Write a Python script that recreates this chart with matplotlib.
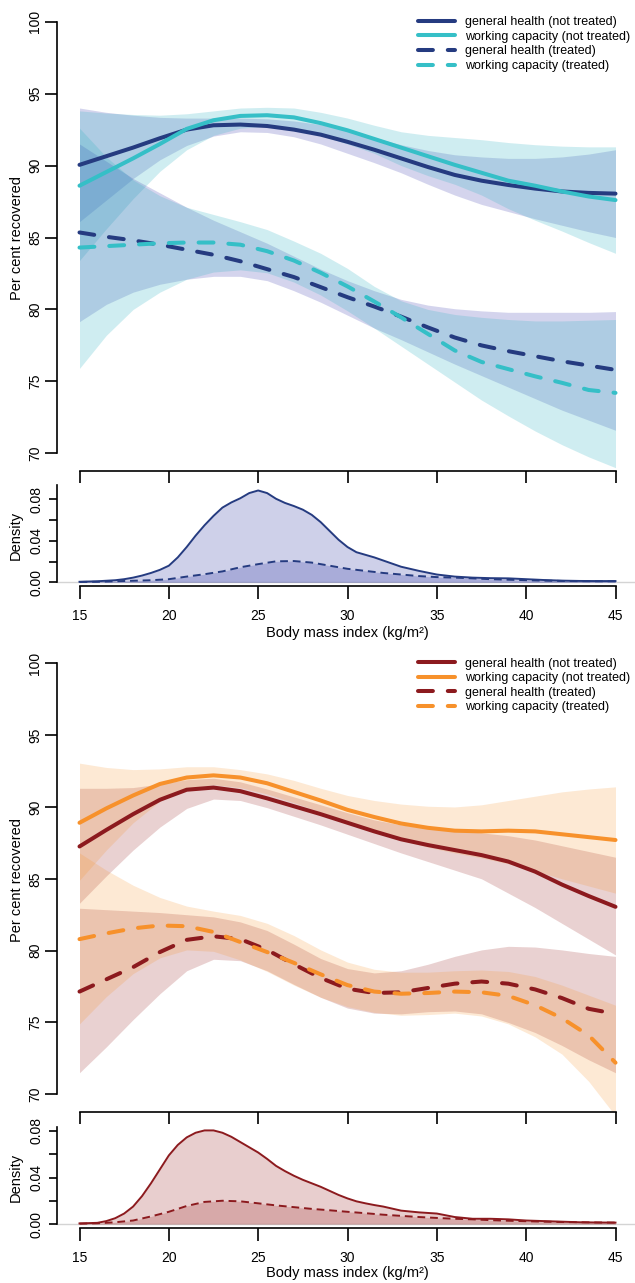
import numpy as np
import matplotlib
matplotlib.use("Agg")
import matplotlib.pyplot as plt

plt.rcParams['font.family'] = ['Liberation Sans', 'DejaVu Sans']

W, H = 635, 1283

# ---------------- data ----------------
bmi = [15, 16.5, 18, 19.5, 21, 22.5, 24, 25.5, 27, 28.5, 30,
       31.5, 33, 34.5, 36, 37.5, 39, 40.5, 42, 43.5, 45]

# top panel (blue)
t_gh = [90.05, 90.65, 91.25, 91.9, 92.5, 92.8, 92.85, 92.75, 92.5, 92.15, 91.65,
        91.1, 90.5, 89.9, 89.35, 88.95, 88.65, 88.4, 88.2, 88.1, 88.05]
t_gh_lo = [86.1, 87.6, 89.1, 90.4, 91.4, 92.05, 92.35, 92.3, 92.0, 91.5, 90.85,
           90.2, 89.5, 88.7, 87.95, 87.3, 86.8, 86.3, 85.85, 85.4, 85.0]
t_gh_hi = [94.0, 93.7, 93.5, 93.35, 93.3, 93.3, 93.3, 93.25, 93.1, 92.85, 92.45,
           91.95, 91.45, 91.05, 90.75, 90.6, 90.5, 90.5, 90.6, 90.8, 91.1]
t_wc = [88.6, 89.55, 90.5, 91.5, 92.55, 93.15, 93.45, 93.5, 93.35, 92.95, 92.45,
        91.85, 91.25, 90.65, 90.05, 89.5, 88.95, 88.6, 88.2, 87.85, 87.6]
t_wc_lo = [83.4, 85.6, 87.7, 89.6, 91.1, 92.1, 92.6, 92.75, 92.6, 92.1, 91.5,
           90.85, 90.0, 89.3, 88.7, 87.95, 87.0, 86.2, 85.45, 84.65, 83.9]
t_wc_hi = [93.8, 93.65, 93.55, 93.5, 93.6, 93.8, 94.0, 94.05, 94.0, 93.7, 93.3,
           92.8, 92.35, 92.1, 91.95, 91.8, 91.6, 91.45, 91.35, 91.3, 91.3]
t_ght = [85.35, 85.05, 84.8, 84.5, 84.15, 83.8, 83.35, 82.8, 82.25, 81.55, 80.85,
         80.2, 79.5, 78.75, 78.05, 77.5, 77.1, 76.75, 76.4, 76.1, 75.8]
t_ght_lo = [79.15, 80.35, 81.2, 81.75, 82.1, 82.3, 82.3, 82.0, 81.3, 80.5, 79.6,
            78.7, 77.9, 77.05, 76.2, 75.4, 74.6, 73.8, 73.0, 72.3, 71.6]
t_ght_hi = [91.5, 90.3, 89.1, 88.1, 87.1, 86.2, 85.4, 84.6, 83.7, 82.8, 82.0,
            81.3, 80.7, 80.3, 80.05, 79.9, 79.8, 79.8, 79.8, 79.8, 79.85]
t_wct = [84.3, 84.4, 84.5, 84.6, 84.65, 84.65, 84.5, 84.05, 83.4, 82.55, 81.6,
         80.55, 79.45, 78.3, 77.15, 76.35, 75.85, 75.35, 74.9, 74.4, 74.2]
t_wct_lo = [75.9, 78.2, 80.0, 81.2, 82.1, 82.6, 82.75, 82.55, 81.9, 81.0, 79.9,
            78.7, 77.45, 76.2, 74.95, 73.7, 72.6, 71.55, 70.6, 69.75, 69.0]
t_wct_hi = [92.6, 90.6, 89.0, 87.9, 87.1, 86.6, 86.1, 85.55, 84.75, 83.9, 82.85,
            81.6, 80.6, 80.0, 79.65, 79.45, 79.3, 79.2, 79.2, 79.25, 79.3]

# bottom panel (red / orange)
b_gh = [87.25, 88.4, 89.5, 90.5, 91.2, 91.35, 91.1, 90.6, 90.05, 89.5, 88.9,
        88.3, 87.75, 87.35, 87.0, 86.65, 86.2, 85.5, 84.6, 83.8, 83.05]
b_gh_lo = [83.3, 85.2, 87.0, 88.6, 89.9, 90.55, 90.45, 89.95, 89.35, 88.75, 88.1,
           87.45, 86.8, 86.2, 85.6, 85.0, 84.0, 83.0, 81.9, 80.8, 79.7]
b_gh_hi = [91.3, 91.3, 91.35, 91.6, 91.9, 92.0, 91.75, 91.25, 90.7, 90.15, 89.6,
           89.1, 88.75, 88.5, 88.35, 88.2, 88.0, 87.7, 87.3, 86.9, 86.5]
b_wc = [88.9, 89.9, 90.8, 91.6, 92.05, 92.2, 92.05, 91.65, 91.05, 90.45, 89.8,
        89.3, 88.85, 88.55, 88.35, 88.3, 88.35, 88.3, 88.1, 87.9, 87.7]
b_wc_lo = [84.9, 87.0, 88.9, 90.4, 91.3, 91.55, 91.35, 90.9, 90.3, 89.65, 89.0,
           88.3, 87.7, 87.2, 86.8, 86.45, 86.05, 85.55, 85.0, 84.5, 84.0]
b_wc_hi = [93.05, 92.75, 92.6, 92.65, 92.8, 92.8, 92.6, 92.3, 91.85, 91.3, 90.8,
           90.45, 90.2, 90.05, 90.0, 90.15, 90.45, 90.75, 91.05, 91.25, 91.4]
b_ght = [77.15, 78.0, 78.85, 79.9, 80.75, 81.0, 80.8, 80.05, 79.05, 78.1, 77.35,
         77.05, 77.1, 77.4, 77.7, 77.85, 77.7, 77.3, 76.7, 75.95, 75.6]
b_ght_lo = [71.5, 73.3, 75.2, 77.0, 78.6, 79.4, 79.3, 78.6, 77.65, 76.75, 76.0,
            75.65, 75.6, 75.75, 75.8, 75.6, 75.0, 74.3, 73.4, 72.4, 71.5]
b_ght_hi = [82.95, 82.85, 82.75, 82.65, 82.5, 82.35, 82.0, 81.4, 80.45, 79.45, 78.75,
            78.45, 78.6, 79.05, 79.6, 80.05, 80.3, 80.25, 80.05, 79.8, 79.6]
b_wct = [80.8, 81.2, 81.55, 81.75, 81.7, 81.3, 80.6, 79.9, 79.15, 78.35, 77.6,
         77.15, 77.0, 77.05, 77.15, 77.1, 76.85, 76.2, 75.3, 74.1, 72.2]
b_wct_lo = [74.9, 76.8, 78.4, 79.5, 80.05, 79.95, 79.35, 78.55, 77.6, 76.75, 76.1,
            75.7, 75.5, 75.55, 75.65, 75.45, 74.9, 74.0, 72.8, 70.9, 68.5]
b_wct_hi = [86.8, 85.6, 84.55, 83.7, 83.1, 82.75, 82.45, 81.9, 81.05, 80.05, 79.2,
            78.7, 78.5, 78.5, 78.6, 78.65, 78.55, 78.2, 77.6, 76.9, 76.2]

# densities
t_bmi_d = [15, 16, 17, 17.5, 18, 18.5, 19, 19.5, 20, 20.5, 21, 21.5, 22, 22.5, 23,
           23.5, 24, 24.5, 25, 25.5, 26, 26.5, 27, 27.5, 28, 28.5, 29, 29.5, 30,
           30.5, 31, 31.5, 32, 32.5, 33, 34, 35, 36, 37, 38, 39, 40, 41, 42, 43, 44, 45]
t_dens_all = [0.0005, 0.001, 0.002, 0.003, 0.0045, 0.0065, 0.009, 0.012, 0.016,
              0.024, 0.034, 0.045, 0.055, 0.064, 0.072, 0.077, 0.081, 0.086, 0.0885,
              0.086, 0.0805, 0.0765, 0.0735, 0.070, 0.065, 0.058, 0.0495, 0.041,
              0.034, 0.029, 0.0265, 0.024, 0.021, 0.018, 0.015, 0.011, 0.0075,
              0.0055, 0.0045, 0.004, 0.0038, 0.003, 0.0022, 0.0016, 0.0013, 0.0012,
              0.0012]
t_bmi_dt = list(range(15, 46))
t_dens_trt = [0.0003, 0.0005, 0.001, 0.0015, 0.002, 0.003, 0.0055, 0.0078, 0.0105,
              0.0145, 0.0175, 0.0202, 0.0205, 0.019, 0.016, 0.013, 0.011, 0.009,
              0.0075, 0.006, 0.005, 0.0045, 0.0038, 0.003, 0.0025, 0.002, 0.0016,
              0.0013, 0.0011, 0.001, 0.001]
b_bmi_d = [15, 16, 16.5, 17, 17.5, 18, 18.5, 19, 19.5, 20, 20.5, 21, 21.5, 22, 22.5,
           23, 23.5, 24, 24.5, 25, 25.5, 26, 26.5, 27, 27.5, 28, 28.5, 29, 29.5, 30,
           30.5, 31, 31.5, 32, 33, 34, 35, 36, 37, 38, 39, 40, 41, 42, 43, 44, 45]
b_dens_all = [0.0005, 0.001, 0.0025, 0.005, 0.009, 0.015, 0.024, 0.035, 0.047, 0.059,
              0.068, 0.0745, 0.0785, 0.0805, 0.0805, 0.0785, 0.075, 0.0705, 0.066,
              0.0615, 0.056, 0.050, 0.0455, 0.0415, 0.038, 0.035, 0.032, 0.0285,
              0.025, 0.022, 0.0195, 0.0178, 0.0163, 0.015, 0.0115, 0.010, 0.009,
              0.006, 0.0045, 0.0045, 0.004, 0.003, 0.0025, 0.002, 0.0015, 0.0013,
              0.0012]
b_bmi_dt = list(range(15, 46))
b_dens_trt = [0.0003, 0.0006, 0.0015, 0.003, 0.0065, 0.0105, 0.0155, 0.019, 0.020,
              0.0195, 0.0178, 0.016, 0.0145, 0.013, 0.0118, 0.0105, 0.0093, 0.008,
              0.007, 0.006, 0.0052, 0.0045, 0.004, 0.0033, 0.0028, 0.0024, 0.002,
              0.0017, 0.0015, 0.0013, 0.0012]

labels = ['general health (not treated)', 'working capacity (not treated)',
          'general health (treated)', 'working capacity (treated)']
xticks = [15, 20, 25, 30, 35, 40, 45]
yticks = [70, 75, 80, 85, 90, 95, 100]
dticks = [0.0, 0.02, 0.04, 0.06, 0.08]
dticklabels = ['0.00', '', '0.04', '', '0.08']

# ---------------- layout helpers ----------------
PX = 0.72  # points per pixel at dpi 100
fig = plt.figure(figsize=(W / 100, H / 100), dpi=100)

AX_X0, AX_X1 = 57.3, 635.0
X15, X45 = 79.5, 615.5
ppu = (X45 - X15) / 30.0
XLIM = (15 - (X15 - AX_X0) / ppu, 45 + (AX_X1 - X45) / ppu)


def px_axes(y0, y1):
    return fig.add_axes([AX_X0 / W, 1 - y1 / H, (AX_X1 - AX_X0) / W, (y1 - y0) / H])


def main_axes(y0, y1, y100, y70, spine_y):
    ax = px_axes(y0, y1)
    s = (y70 - y100) / 30.0
    ax.set_xlim(*XLIM)
    ax.set_ylim(70 - (y1 - y70) / s, 100 + (y100 - y0) / s)
    ax.patch.set_alpha(0)
    for k in ['top', 'right']:
        ax.spines[k].set_visible(False)
    for k in ['left', 'bottom']:
        ax.spines[k].set_linewidth(1.2)
    ax.spines['left'].set_bounds(70, 100)
    ax.spines['bottom'].set_bounds(15, 45)
    ax.spines['bottom'].set_position(('outward', (spine_y - y1) * PX))
    ax.set_xticks(xticks)
    ax.set_yticks(yticks)
    ax.set_yticklabels([str(v) for v in yticks], rotation=90, va='center')
    ax.tick_params(axis='y', length=12.3 * PX, width=1.2, pad=2.0, labelsize=10)
    ax.tick_params(axis='x', length=12.3 * PX, width=1.2, labelbottom=False)
    return ax


def dens_axes(y0, y1, y0val, y008, ytop):
    ax = px_axes(y0, y1)
    s = (y0val - y008) / 0.08
    ax.set_xlim(*XLIM)
    ax.set_ylim(-(y1 - y0val) / s, (y0val - y0) / s)
    ax.patch.set_alpha(0)
    for k in ['top', 'right']:
        ax.spines[k].set_visible(False)
    for k in ['left', 'bottom']:
        ax.spines[k].set_linewidth(1.2)
    ax.spines['left'].set_bounds(0, (y0val - ytop) / s)
    ax.spines['bottom'].set_bounds(15, 45)
    ax.set_xticks(xticks)
    ax.set_xticklabels([str(v) for v in xticks])
    ax.set_yticks(dticks)
    ax.set_yticklabels(dticklabels, rotation=90, va='center')
    ax.tick_params(axis='y', length=8.5 * PX, width=1.2, pad=4.0, labelsize=10)
    ax.tick_params(axis='x', length=12.5 * PX, width=1.2, pad=7.5, labelsize=10)
    return ax


def draw_panel(ax, c_gh, c_wc, fc_gh, fc_wc, a_gh, a_wc, data, leg_y):
    (gh, gh_lo, gh_hi, wc, wc_lo, wc_hi, ght, ght_lo, ght_hi, wct, wct_lo, wct_hi) = data
    ax.fill_between(bmi, gh_lo, gh_hi, color=fc_gh, alpha=a_gh, lw=0)
    ax.fill_between(bmi, wc_lo, wc_hi, color=fc_wc, alpha=a_wc, lw=0)
    ax.fill_between(bmi, ght_lo, ght_hi, color=fc_gh, alpha=a_gh, lw=0)
    ax.fill_between(bmi, wct_lo, wct_hi, color=fc_wc, alpha=a_wc, lw=0)
    lw = 2.9
    dash = (0, (3.7, 3.7))
    h1, = ax.plot(bmi, gh, color=c_gh, lw=lw, solid_capstyle='round')
    h2, = ax.plot(bmi, wc, color=c_wc, lw=lw, solid_capstyle='round')
    h3, = ax.plot(bmi, ght, color=c_gh, lw=lw, ls=dash, dash_capstyle='round')
    h4, = ax.plot(bmi, wct, color=c_wc, lw=lw, ls=dash, dash_capstyle='round')
    ax.legend([h1, h2, h3, h4], labels, loc='upper left',
              bbox_to_anchor=(418 / W, 1 - leg_y / H), bbox_transform=fig.transFigure,
              frameon=False, fontsize=9, handlelength=2.96, handletextpad=0.8,
              borderpad=0, borderaxespad=0, labelspacing=0.21)


def draw_density(ax, c_line, c_fill, xa, d_all, xt, d_trt):
    ax.axhline(0, color='#d4d4d4', lw=1.0, zorder=0)
    ax.fill_between(xa, 0, d_all, color=c_fill, alpha=0.23, lw=0)
    ax.fill_between(xt, 0, d_trt, color=c_fill, alpha=0.23, lw=0)
    ax.plot(xa, d_all, color=c_line, lw=1.4)
    ax.plot(xt, d_trt, color=c_line, lw=1.4, ls=(0, (4, 2.5)))


# ---------------- top ----------------
ax1 = main_axes(15, 469.3, 21.7, 453.3, 471.0)
draw_panel(ax1, '#253b80', '#35bfc7', '#2a2ca8', '#32b4c3', 0.2, 0.23,
           (t_gh, t_gh_lo, t_gh_hi, t_wc, t_wc_lo, t_wc_hi,
            t_ght, t_ght_lo, t_ght_hi, t_wct, t_wct_lo, t_wct_hi), 16.0)
ax2 = dens_axes(480, 585.7, 582.3, 499.3, 485.0)
draw_density(ax2, '#253b80', '#2f37a4', t_bmi_d, t_dens_all, t_bmi_dt, t_dens_trt)

# ---------------- bottom ----------------
ax3 = main_axes(655, 1110, 663.3, 1094.3, 1112.3)
draw_panel(ax3, '#8c1a1e', '#f7912b', '#9f2e2e', '#f7922a', 0.22, 0.2,
           (b_gh, b_gh_lo, b_gh_hi, b_wc, b_wc_lo, b_wc_hi,
            b_ght, b_ght_lo, b_ght_hi, b_wct, b_wct_lo, b_wct_hi), 657.5)
ax4 = dens_axes(1120, 1227.7, 1224.0, 1131.0, 1126.7)
draw_density(ax4, '#8c1a1e', '#9f2e2e', b_bmi_d, b_dens_all, b_bmi_dt, b_dens_trt)

# ---------------- axis titles ----------------
def ftext(x, y, s, rot=0):
    fig.text(x / W, 1 - y / H, s, rotation=rot, ha='center', va='center', fontsize=10.5)

ftext(17, 238, 'Per cent recovered', 90)
ftext(16, 535, 'Density', 90)
ftext(347.5, 633, 'Body mass index (kg/m²)')
ftext(17, 879.5, 'Per cent recovered', 90)
ftext(16, 1177, 'Density', 90)
ftext(347.5, 1273, 'Body mass index (kg/m²)')

fig.savefig('out.png', dpi=100)
